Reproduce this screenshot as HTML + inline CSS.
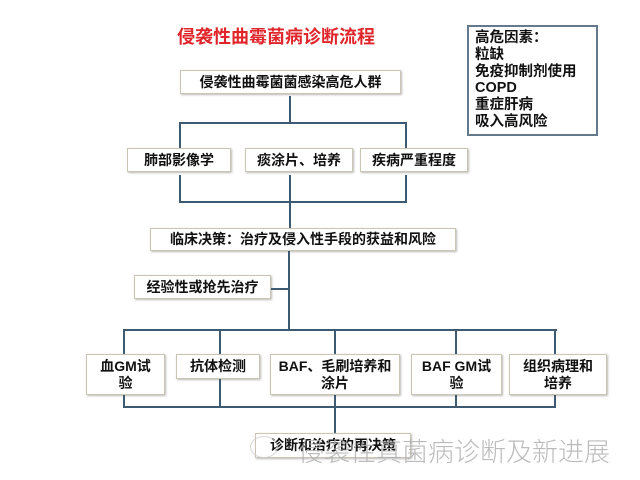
<!DOCTYPE html>
<html><head><meta charset="utf-8"><style>
body{margin:0;width:640px;height:480px;background:#fff;position:relative;overflow:hidden;font-family:"Liberation Sans","Noto Sans CJK SC",sans-serif;}
.b{position:absolute;background:#fff;border:1px solid #c9c4b4;box-shadow:1px 1px 2px #bbb;box-sizing:border-box;display:flex;align-items:center;justify-content:center;text-align:center;font-weight:bold;font-size:14px;color:#111;line-height:17px;}
.l{position:absolute;background:#3d5a73;}
</style></head><body>
<div style="position:absolute;left:177px;top:23px;font-size:18px;font-weight:bold;color:#e0262b;">侵袭性曲霉菌病诊断流程</div>
<div style="position:absolute;left:467px;top:25px;width:131px;height:111px;border:2px solid #62798e;box-sizing:border-box;padding:3px 0 0 6px;font-size:14.5px;font-weight:bold;line-height:16.8px;color:#111;">高危因素：<br>粒缺<br>免疫抑制剂使用<br>COPD<br>重症肝病<br>吸入高风险</div>

<div class="b" style="left:180px;top:70px;width:221px;height:24px;">侵袭性曲霉菌菌感染高危人群</div>
<div class="l" style="left:289px;top:96px;width:2px;height:28px;"></div>
<div class="l" style="left:180px;top:122px;width:227px;height:2px;"></div>
<div class="l" style="left:179px;top:122px;width:2px;height:26px;"></div>
<div class="l" style="left:405px;top:122px;width:2px;height:26px;"></div>

<div class="b" style="left:127px;top:148px;width:104px;height:24px;">肺部影像学</div>
<div class="b" style="left:245px;top:148px;width:108px;height:24px;">痰涂片、培养</div>
<div class="b" style="left:360px;top:148px;width:108px;height:24px;">疾病严重程度</div>

<div class="l" style="left:179px;top:175px;width:2px;height:28px;"></div>
<div class="l" style="left:289px;top:175px;width:2px;height:54px;"></div>
<div class="l" style="left:405px;top:175px;width:2px;height:28px;"></div>
<div class="l" style="left:180px;top:201px;width:227px;height:2px;"></div>

<div class="b" style="left:150px;top:228px;width:306px;height:23px;">临床决策：治疗及侵入性手段的获益和风险</div>
<div class="l" style="left:288px;top:251px;width:2px;height:80px;"></div>
<div class="b" style="left:134px;top:275px;width:137px;height:24px;">经验性或抢先治疗</div>
<div class="l" style="left:271px;top:288px;width:18px;height:2px;"></div>

<div class="l" style="left:124px;top:329px;width:433px;height:2px;"></div>
<div class="l" style="left:123px;top:329px;width:2px;height:25px;"></div>
<div class="l" style="left:219px;top:329px;width:2px;height:25px;"></div>
<div class="l" style="left:334px;top:329px;width:2px;height:25px;"></div>
<div class="l" style="left:455px;top:329px;width:2px;height:25px;"></div>
<div class="l" style="left:554px;top:329px;width:2px;height:25px;"></div>

<div class="b" style="left:86px;top:354px;width:79px;height:41px;">血GM试<br>验</div>
<div class="b" style="left:176px;top:354px;width:84px;height:25px;">抗体检测</div>
<div class="b" style="left:270px;top:354px;width:130px;height:41px;">BAF、毛刷培养和<br>涂片</div>
<div class="b" style="left:411px;top:354px;width:91px;height:41px;">BAF GM试<br>验</div>
<div class="b" style="left:509px;top:354px;width:98px;height:41px;">组织病理和<br>培养</div>

<div class="l" style="left:123px;top:395px;width:2px;height:13px;"></div>
<div class="l" style="left:219px;top:379px;width:2px;height:29px;"></div>
<div class="l" style="left:334px;top:395px;width:2px;height:39px;"></div>
<div class="l" style="left:455px;top:395px;width:2px;height:13px;"></div>
<div class="l" style="left:554px;top:395px;width:2px;height:13px;"></div>
<div class="l" style="left:124px;top:406px;width:432px;height:2px;"></div>

<div class="b" style="left:255px;top:433px;width:156px;height:25px;">诊断和治疗的再决策</div>
<div style="position:absolute;left:250px;top:436px;width:26px;height:20px;border:1.5px solid #ccc;border-radius:50%;opacity:.8;"></div>
<div style="position:absolute;left:298px;top:432px;font-size:26px;color:#b0b0b0;opacity:.85;white-space:nowrap;font-family:'Noto Sans CJK SC',sans-serif;font-weight:300;">侵袭性真菌病诊断及新进展</div>
</body></html>
